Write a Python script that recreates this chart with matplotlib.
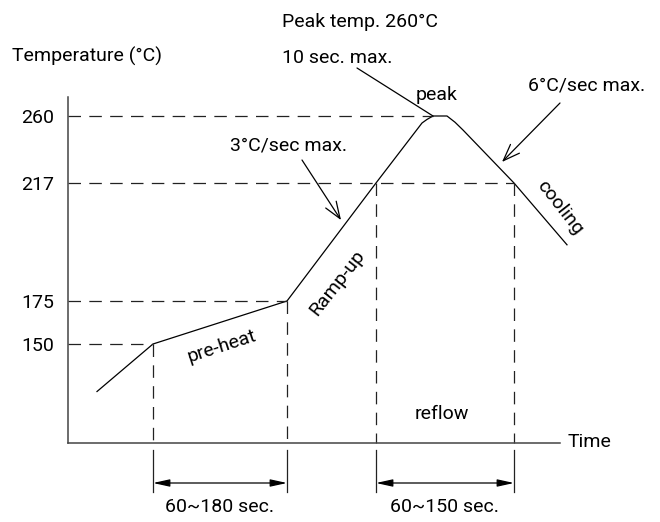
import matplotlib
matplotlib.use("Agg")
import matplotlib.pyplot as plt
import matplotlib.transforms as mtransforms
import numpy as np

plt.rcParams["font.family"] = ["Roboto", "Liberation Sans", "DejaVu Sans"]
plt.rcParams["font.weight"] = "normal"
plt.rcParams["lines.scale_dashes"] = False

# reflow profile, schematic time units vs temperature (C)
time_s = [29, 85, 219, 308, 354, 359, 365, 379, 387, 395, 446, 499]
temp_c = [126, 150, 175, 217, 255.5, 257.8, 260, 260, 256, 251, 217, 195]

# guide temperatures and where the dashed lines stop
key_temps = [150, 175, 217, 260]
tick_labels = ["150", "175", "217", "260"]
h_guide_end = [85, 219, 446, 365]
v_guide_times = [85, 219, 308, 446]
v_guide_temps = [150, 175, 217, 217]

# zones: (start, end, label)
zones = [(85, 219, "60~180 sec."), (308, 446, "60~150 sec.")]

# the temperature axis of the drawing is not linear
scale_temps = [0, 100, 150, 175, 217, 260, 400]
scale_pos = [-198, 0, 99, 142, 260, 327, 545]


def fwd(t):
    return np.interp(t, scale_temps, scale_pos)


def inv(p):
    return np.interp(p, scale_pos, scale_temps)


W, H = 660, 522


def fp(x, y):
    # figure pixel -> figure fraction
    return (x / W, 1 - y / H)


fig = plt.figure(figsize=(W / 100, H / 100), dpi=100)
ax = fig.add_axes([68 / W, (H - 443) / H, (560 - 68) / W, (443 - 97) / H])
ax.set_yscale("function", functions=(fwd, inv))
ax.set_xlim(0, 492)
ax.set_ylim(100, 272.2)

for s in ["top", "right"]:
    ax.spines[s].set_visible(False)
for s in ["left", "bottom"]:
    ax.spines[s].set_color("#444444")
    ax.spines[s].set_linewidth(1.1)

ax.set_xticks([])
ax.set_yticks(key_temps, tick_labels)
ax.yaxis.set_minor_locator(matplotlib.ticker.NullLocator())
ax.tick_params(axis="y", length=0, pad=10, labelsize=14)

dash = (0, (9, 6))
lc = "#222222"

# profile
ax.plot(time_s, temp_c, color="black", lw=0.9, clip_on=False)

# dashed guides
for t, x_end in zip(key_temps, h_guide_end):
    ax.plot([0, x_end], [t, t], color=lc, lw=0.9, linestyle=dash)
for x, t in zip(v_guide_times, v_guide_temps):
    ax.plot([x, x], [t, 100], color=lc, lw=0.9, linestyle=dash, clip_on=False)

# extension lines and dimension arrows below the axis
trans = mtransforms.blended_transform_factory(ax.transData, fig.transFigure)
for x in v_guide_times:
    ax.plot([x, x], [fp(0, 450)[1], fp(0, 492)[1]], color=lc, lw=0.9,
            transform=trans, clip_on=False)
for x0, x1, label in zones:
    ax.annotate("", xy=(x1, fp(0, 483)[1]), xytext=(x0, fp(0, 483)[1]),
                xycoords=trans, textcoords=trans,
                arrowprops=dict(arrowstyle="<|-|>,head_length=1.0,head_width=0.22",
                                color="black", lw=0.9, shrinkA=0, shrinkB=0))
    ax.text((x0 + x1) / 2, fp(0, 507)[1], label, transform=trans,
            ha="center", va="center", fontsize=14)

# annotations
fs = 14
fig.text(*fp(12, 56), "Temperature (°C)", ha="left", va="center", fontsize=fs)
fig.text(*fp(282, 22), "Peak temp. 260°C", ha="left", va="center", fontsize=fs)
fig.text(*fp(282, 58), "10 sec. max.", ha="left", va="center", fontsize=fs)
ax.annotate("", xy=(365, 260), xytext=fp(357, 68), textcoords="figure fraction",
            arrowprops=dict(arrowstyle="-", color="black", lw=0.9,
                            shrinkA=0, shrinkB=0))
fig.text(*fp(437, 95), "peak", ha="center", va="center", fontsize=fs)

fig.text(*fp(289, 145), "3°C/sec max.", ha="center", va="center", fontsize=fs)
ax.annotate("", xy=(273, 203.8), xytext=fp(302, 160), textcoords="figure fraction",
            arrowprops=dict(arrowstyle="->,head_length=1.2,head_width=0.45",
                            color="black", lw=0.9, shrinkA=0, shrinkB=0))
fig.text(*fp(587, 85), "6°C/sec max.", ha="center", va="center", fontsize=fs)
ax.annotate("", xy=(434, 230.5), xytext=fp(560, 103), textcoords="figure fraction",
            arrowprops=dict(arrowstyle="->,head_length=1.2,head_width=0.45",
                            color="black", lw=0.9, shrinkA=0, shrinkB=0))

fig.text(*fp(337, 283), "Ramp-up", ha="center", va="center", fontsize=fs,
         rotation=52, rotation_mode="anchor")
fig.text(*fp(222, 346), "pre-heat", ha="center", va="center", fontsize=fs,
         rotation=18, rotation_mode="anchor")
fig.text(*fp(560, 208), "cooling", ha="center", va="center", fontsize=fs,
         rotation=-52, rotation_mode="anchor")
fig.text(*fp(442, 414), "reflow", ha="center", va="center", fontsize=fs)
fig.text(*fp(589, 442), "Time", ha="center", va="center", fontsize=fs)

fig.savefig("out.png", dpi=100, facecolor="white")
